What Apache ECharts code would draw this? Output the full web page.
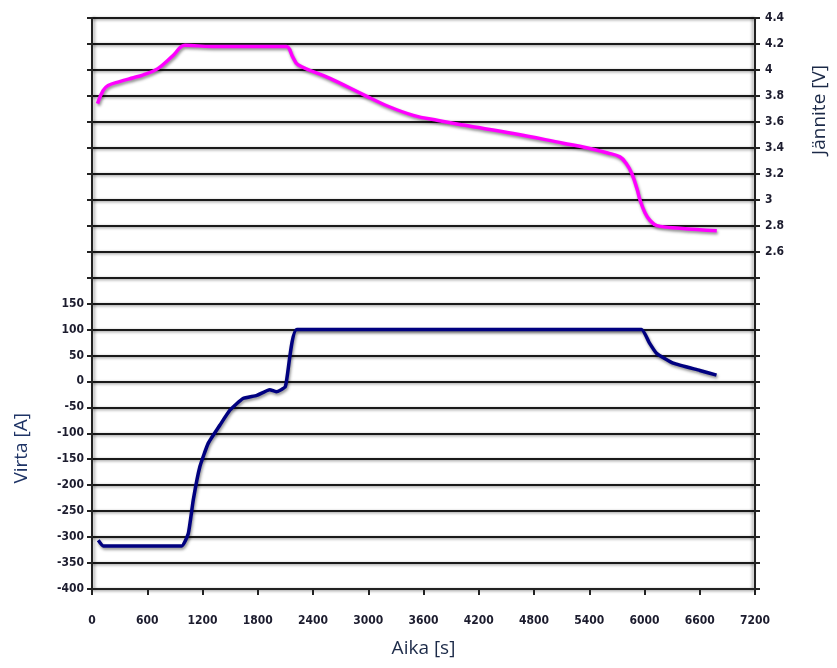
<!DOCTYPE html>
<html>
<head>
<meta charset="utf-8">
<script src="https://cdn.jsdelivr.net/npm/echarts@6/dist/echarts.min.js"></script>
<style>html,body{margin:0;padding:0;background:#fff}#c{width:837px;height:668px}</style>
</head>
<body>
<div id="c"></div>
<script>
// time (s) ticks
const xTicks = [0,600,1200,1800,2400,3000,3600,4200,4800,5400,6000,6600,7200];
// Voltage (V) series: [time s, voltage V]
const voltage = [
  [60,3.74],[120,3.84],[175,3.88],[300,3.91],[450,3.94],[550,3.96],[715,4.01],[880,4.11],[1010,4.19],
  [1300,4.18],[1600,4.18],[1900,4.18],[2110,4.18],[2180,4.10],[2237,4.04],[2584,3.935],[2946,3.81],
  [3215,3.72],[3489,3.65],[3760,3.61],[4032,3.575],[4575,3.51],[5118,3.435],[5370,3.40],[5600,3.36],[5733,3.33],[5800,3.28],
  [5863,3.20],[5920,3.08],[5950,3.00],[6005,2.90],[6060,2.84],[6135,2.80],[6385,2.78],[6785,2.76]
];
// Current (A) series: [time s, current A]
const current = [
  [68,-306],[123,-317],[400,-317],[700,-317],[974,-317],[1046,-293],[1100,-228],[1172,-164],[1263,-119],
  [1390,-84],[1500,-55],[1640,-33],[1790,-27],[1930,-16],[2000,-20],[2100,-10],[2225,100],[3000,100],
  [4000,100],[5000,100],[5968,100],[6050,75],[6131,54],[6312,35],[6601,21],[6782,12]
];
const xTitle = 'Aika [s]';
const yLeftTitle = 'Virta [A]';
const yRightTitle = 'Jännite [V]';

const labelFont = {fontFamily:"'Liberation Sans Narrow','Arial Narrow','DejaVu Sans Condensed',sans-serif",fontWeight:'bold',fontSize:12,color:'#1c1c2e'};

const chart = echarts.init(document.getElementById('c'),null,{renderer:'canvas'});
chart.setOption({
  animation:false,
  backgroundColor:'#fff',
  grid:{left:92,right:82,top:18,bottom:79,containLabel:false},
  xAxis:{
    type:'value',min:0,max:7200,interval:600,
    name:xTitle,nameLocation:'middle',nameGap:50,
    nameTextStyle:{fontFamily:"'Open Sans','Noto Sans',sans-serif",fontSize:19,color:'#1c2a48'},
    axisLine:{onZero:false,lineStyle:{color:'#222',width:2}},
    axisTick:{length:6,lineStyle:{color:'#222',width:2}},
    axisLabel:Object.assign({margin:26,formatter:v=>String(v)},labelFont),
    splitLine:{show:false}
  },
  yAxis:[
    {
      type:'value',min:-400,max:700,interval:50,position:'left',
      axisLine:{show:true,onZero:false,lineStyle:{color:'#222',width:2,shadowColor:'rgba(0,0,0,0.35)',shadowBlur:3,shadowOffsetX:2}},
      axisTick:{show:true,length:5,lineStyle:{color:'#222',width:2}},
      axisLabel:Object.assign({margin:8,formatter:v=> v<=150 ? String(v) : ''},labelFont),
      splitLine:{show:true,lineStyle:{color:'#1a1a1a',width:2,shadowColor:'rgba(0,0,0,0.45)',shadowBlur:3,shadowOffsetY:1}}
    },
    {
      type:'value',min:0,max:4.4,interval:0.2,position:'right',
      axisLine:{show:true,onZero:false,lineStyle:{color:'#222',width:2,shadowColor:'rgba(0,0,0,0.35)',shadowBlur:3,shadowOffsetX:-2}},
      axisTick:{show:true,length:5,lineStyle:{color:'#222',width:2}},
      axisLabel:Object.assign({margin:10,formatter:v=> v>=2.59 ? String(Math.round(v*10)/10) : ''},labelFont),
      splitLine:{show:false}
    }
  ],
  graphic:[
    {type:'text',left:12,top:413,rotation:Math.PI/2,
     style:{text:yLeftTitle,font:"19px 'Open Sans','Noto Sans',sans-serif",fill:'#1f3466'}},
    {type:'text',left:810,top:65,rotation:Math.PI/2,
     style:{text:yRightTitle,font:"19px 'Open Sans','Noto Sans',sans-serif",fill:'#1c2a48'}}
  ],
  series:[
    {
      type:'line',yAxisIndex:1,data:voltage,symbol:'none',smooth:0.4,
      lineStyle:{color:'#ff00ff',width:3.5,shadowColor:'rgba(0,0,0,0.45)',shadowBlur:3,shadowOffsetX:1,shadowOffsetY:2}
    },
    {
      type:'line',yAxisIndex:0,data:current,symbol:'none',smooth:0.15,
      lineStyle:{color:'#000080',width:3.5,shadowColor:'rgba(0,0,0,0.45)',shadowBlur:3,shadowOffsetX:1,shadowOffsetY:2}
    }
  ]
});
</script>
</body>
</html>
